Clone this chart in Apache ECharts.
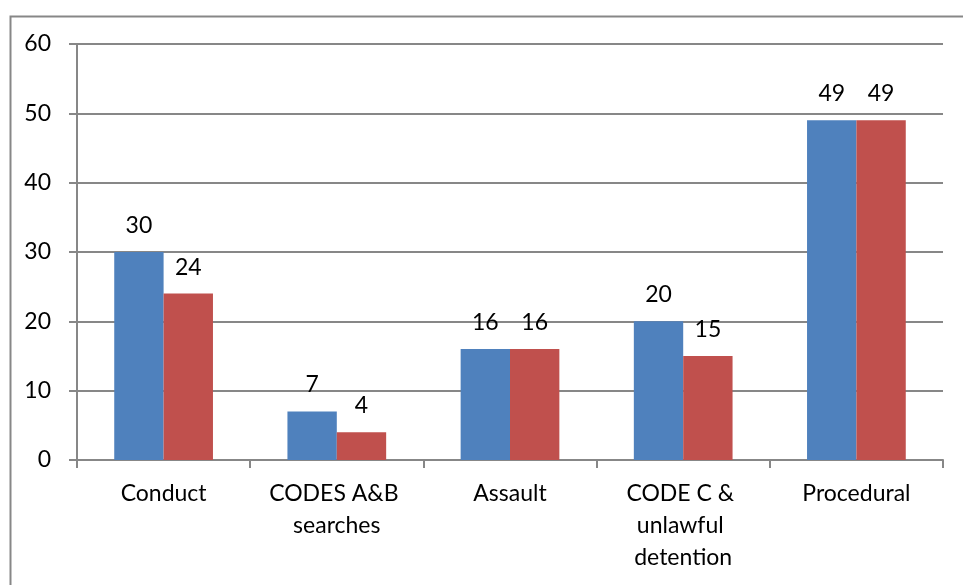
<!DOCTYPE html>
<html>
<head>
<meta charset="utf-8">
<script src="https://cdn.jsdelivr.net/npm/echarts@6/dist/echarts.min.js"></script>
<style>
  html, body { margin: 0; padding: 0; background: #fff; }
  #chart { width: 963px; height: 585px; }
</style>
</head>
<body>
<div id="chart"></div>
<script>
// categories and values
var categories = ['Conduct', 'CODES A&B searches', 'Assault', 'CODE C & unlawful detention', 'Procedural'];
var seriesA = [30, 7, 16, 20, 49];
var seriesB = [24, 4, 16, 15, 49];

var chart = echarts.init(document.getElementById('chart'));
var font = 'Lato, "Open Sans", sans-serif';
var gray = '#878787';

chart.setOption({
    animation: false,
    graphic: [{
        type: 'rect',
        left: 8, top: 14,
        shape: { width: 1000, height: 1000 },
        style: { fill: 'none', stroke: gray, lineWidth: 2 }
    }],
    grid: { left: 77, right: 20, top: 44, bottom: 125 },
    xAxis: {
        type: 'category',
        data: categories,
        axisLine: { lineStyle: { color: gray, width: 2 } },
        axisTick: { show: true, length: 8, lineStyle: { color: gray, width: 2 } },
        axisLabel: {
            color: '#000', fontFamily: font, fontSize: 23, margin: 18,
            lineHeight: 32, width: 160, overflow: 'break', interval: 0
        }
    },
    yAxis: {
        type: 'value',
        min: 0, max: 60, interval: 10,
        axisLine: { show: true, lineStyle: { color: gray, width: 2 } },
        axisTick: { show: true, length: 8, lineStyle: { color: gray, width: 2 } },
        splitLine: { lineStyle: { color: gray, width: 2 } },
        axisLabel: { color: '#000', fontFamily: font, fontSize: 23, margin: 26 }
    },
    series: [{
        type: 'bar',
        data: seriesA,
        itemStyle: { color: '#4F81BD' },
        barGap: '0%',
        barCategoryGap: '43%',
        label: { show: true, position: 'top', distance: 15, color: '#000', fontFamily: font, fontSize: 23 }
    }, {
        type: 'bar',
        data: seriesB,
        itemStyle: { color: '#C0504D' },
        barGap: '0%',
        barCategoryGap: '43%',
        label: { show: true, position: 'top', distance: 15, color: '#000', fontFamily: font, fontSize: 23 }
    }]
});
</script>
</body>
</html>
